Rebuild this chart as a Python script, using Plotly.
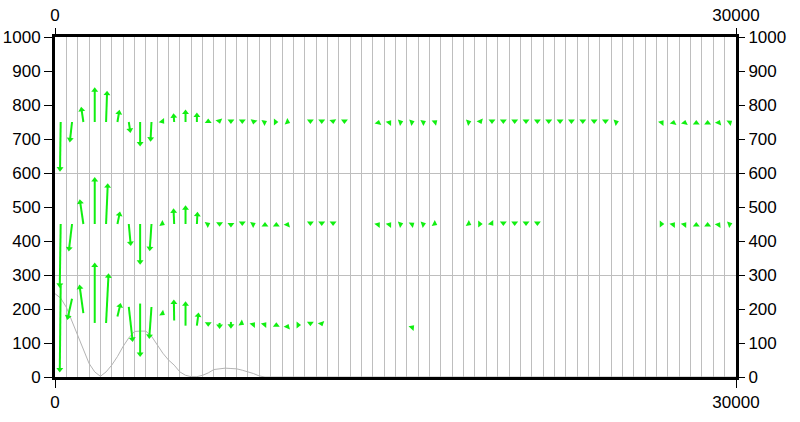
import math
import plotly.graph_objects as go

# ---------------- data ----------------
# station positions (x) : centre of every 500-wide grid cell
stations = list(range(250, 30000, 500))

# terrain-like gray profile
prof_x = [0, 250, 500, 750, 1000, 1250, 1500, 1750, 2000, 2250, 2500, 2750, 3000, 3250,
          3500, 3750, 4000, 4250, 4500, 4750, 5000, 5250, 5500, 5750, 6000, 6250, 6500,
          6750, 7000, 7250, 7500, 7750, 8000, 8250, 8500, 8750, 9000, 9250, 30000]
prof_y = [245, 232, 205, 165, 125, 82, 40, 15, 2, 15, 35, 60, 90, 115,
          134, 135, 135, 120, 95, 70, 50, 35, 15, 5, 1, 1, 5,
          12, 22, 25, 26, 25, 24, 20, 16, 10, 3, 0, 0]

N = None
# top row (tail at 750): horizontal (x units) and vertical (y units) components
top_base = 750
top_u = [-30, -100, -100, 0, 45, 90, 75, 0, -45, 60, -30, 0, 0, 0, 20, 0, 0, -20, 90, 90,
         110, N, 0, 0, 10, 0, N, N, 20, 60, 90, 90, 90, 90, N, N, 90, 40, 0, 0,
         0, 0, 0, 0, 0, 0, 0, 0, 0, 90, N, N, N, 60, 20, 20, 0, 0, 40, 80]
top_v = [-146, -60, 45, 102, 92, 36, -32, -72, -58, -5, 26, 37, 28, 10, -5, -6, -6, -7, 3, 0,
         -3, N, -6, -6, -6, -6, N, N, 6, 5, 2, 2, 3, 5, N, N, 2, -6, -6, -6,
         -6, -6, -6, -6, -6, -6, -6, -6, -6, 2, N, N, N, 5, 6, 6, 6, 6, 6, 4]

# middle row (tail at 450)
mid_base = 450
mid_u = [-40, -145, -160, 0, 75, 115, 90, 0, -80, 90, -30, 0, 30, 90, 0, 0, 0, 90, 0, 0,
         40, N, 0, 0, 0, N, N, N, 60, 60, 90, 80, 90, 90, N, N, 90, 90, 60, 0,
         0, 0, 0, N, N, N, N, N, N, N, N, N, N, 90, 60, 60, 0, 0, 50, 90]
mid_v = [-188, -81, 73, 138, 120, 37, -65, -120, -80, -3, 46, 55, 36, 3, -8, -10, -6, 3, 6, 6,
         6, N, -6, -6, -6, N, N, N, 5, 5, 2, 4, 2, -3, N, N, -3, 0, -5, -6,
         -6, -6, -6, N, N, N, N, N, N, N, N, N, N, 0, 5, 5, 6, 6, 5, 2]

# bottom row (tail follows the terrain)
bot_base = [268, 230, 188, 159, 159, 178, 206, 216, 206, 186, 166, 151, 151, 156, 159, 162,
            157, 156, 156, 153, 150, 153, 155, 155, N, N, N, N, N, N, N, 147, N, N, N, N,
            N, N, N, N, N, N, N, N, N, N, N, N, N, N, N, N, N, N, N, N, N, N, N, N]
bot_u = [-40, -210, -175, 0, 110, 145, 175, 0, -100, 90, -15, 0, 75, 0, 0, 0,
         80, 60, 60, 0, 40, 90, 0, 30, N, N, N, N, N, N, N, 70, N, N, N, N,
         N, N, N, N, N, N, N, N, N, N, N, N, N, N, N, N, N, N, N, N, N, N, N, N]
bot_v = [-255, -62, 84, 178, 146, 40, -103, -157, -94, -4, 62, 72, 39, -8, -18, -20,
         -3, 5, 5, 8, 6, 0, -6, -6, N, N, N, N, N, N, N, 5, N, N, N, N,
         N, N, N, N, N, N, N, N, N, N, N, N, N, N, N, N, N, N, N, N, N, N, N, N]

x_ticks = [0, 30000]
y_ticks = [0, 100, 200, 300, 400, 500, 600, 700, 800, 900, 1000]
y_grid = [300, 600]

# ---------------- layout geometry ----------------
W, H = 800, 422
ML, MR, MT, MB = 55, 64, 37, 45
XR, YR = (0, 30000), (0, 1000)
px_per_x = (W - ML - MR) / (XR[1] - XR[0])
px_per_y = (H - MT - MB) / (YR[1] - YR[0])
HEAD_OFF = 3.0   # px from tip to marker centre

GREEN = "#11ee11"
FONT = dict(family="Liberation Sans, Arial, sans-serif", size=17, color="black")

shaft_x, shaft_y = [], []
head_x, head_y, head_ang = [], [], []

def add_row(bases, us, vs):
    for i, xs in enumerate(stations):
        b = bases[i] if isinstance(bases, list) else bases
        u, v = us[i], vs[i]
        if b is None or u is None or v is None:
            continue
        dxp, dyp = u * px_per_x, v * px_per_y
        L = math.hypot(dxp, dyp)
        ex, ey = dxp / L, dyp / L
        tipx, tipy = xs + u, b + v
        cx = tipx - ex * HEAD_OFF / px_per_x
        cy = tipy - ey * HEAD_OFF / px_per_y
        if L > HEAD_OFF:
            shaft_x.extend([xs, cx, None])
            shaft_y.extend([b, cy, None])
        head_x.append(cx)
        head_y.append(cy)
        head_ang.append(math.degrees(math.atan2(dxp, dyp)))

add_row(top_base, top_u, top_v)
add_row(mid_base, mid_u, mid_v)
add_row(bot_base, bot_u, bot_v)

fig = go.Figure()
fig.add_trace(go.Scatter(x=prof_x, y=prof_y, mode="lines",
                         line=dict(color="#b4b4b4", width=1),
                         showlegend=False, hoverinfo="skip"))
fig.add_trace(go.Scatter(x=shaft_x, y=shaft_y, mode="lines",
                         line=dict(color=GREEN, width=2),
                         showlegend=False, hoverinfo="skip"))
fig.add_trace(go.Scatter(x=head_x, y=head_y, mode="markers",
                         marker=dict(symbol="triangle-up", size=6, color=GREEN,
                                     angle=head_ang, line=dict(width=0)),
                         showlegend=False, hoverinfo="skip"))
# dummy traces to activate the overlay axes
fig.add_trace(go.Scatter(x=[None], y=[None], xaxis="x2", yaxis="y", showlegend=False))
fig.add_trace(go.Scatter(x=[None], y=[None], xaxis="x", yaxis="y2", showlegend=False))
fig.add_trace(go.Scatter(x=[None], y=[None], xaxis="x", yaxis="y3", showlegend=False))

common = dict(automargin=False, zeroline=False, tickcolor="black", tickwidth=1,
              ticklen=8, ticks="outside")
fig.update_layout(
    width=W, height=H,
    margin=dict(l=ML, r=MR, t=MT, b=MB, autoexpand=False),
    paper_bgcolor="white", plot_bgcolor="white",
    font=FONT,
    xaxis=dict(range=list(XR), tickvals=x_ticks, ticktext=[str(v) for v in x_ticks],
               showline=True, linewidth=3, linecolor="black", mirror=True,
               showgrid=False,
               minor=dict(tick0=0, dtick=500, showgrid=True, gridcolor="#bebebe",
                          gridwidth=1, ticks=""), **common),
    xaxis2=dict(range=list(XR), overlaying="x", side="top", anchor="y",
                tickvals=x_ticks, ticktext=[str(v) for v in x_ticks],
                showline=False, showgrid=False, **common),
    yaxis=dict(range=list(YR), tickvals=y_ticks, ticktext=[str(v) for v in y_ticks],
               showline=True, linewidth=3, linecolor="black", mirror=True,
               showgrid=False, **common),
    yaxis2=dict(range=list(YR), overlaying="y", side="right", anchor="x",
                tickvals=y_ticks, ticktext=[str(v) for v in y_ticks],
                showline=False, showgrid=False, **common),
    yaxis3=dict(range=list(YR), overlaying="y", side="left", anchor="x",
                tickvals=y_grid, showticklabels=False, ticks="",
                showgrid=True, gridcolor="#bebebe", gridwidth=1,
                showline=False, zeroline=False, automargin=False),
)

fig.write_html("out.html")
